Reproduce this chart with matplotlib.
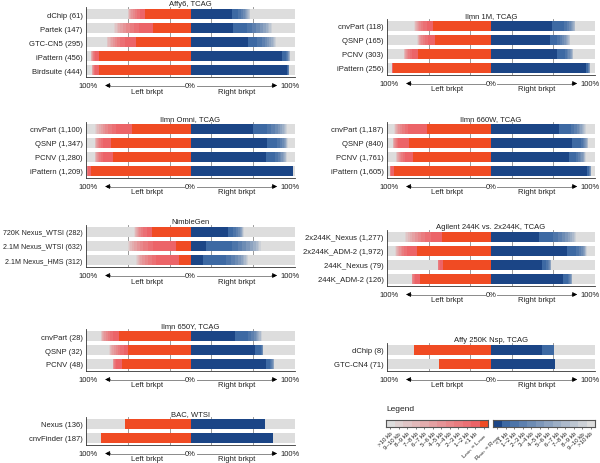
import numpy as np
import matplotlib
matplotlib.use('Agg')
import matplotlib.pyplot as plt
import matplotlib.transforms as mtransforms
from matplotlib.colors import to_rgb

plt.rcParams['font.family'] = ['Liberation Sans', 'DejaVu Sans']

# per-bar percentages for: exact, <1 kb, 1-2 kb, ..., 9-10 kb (the rest is >10 kb)
affy6_names = ['dChip (61)', 'Partek (147)', 'GTC-CN5 (295)', 'iPattern (456)', 'Birdsuite (444)']
affy6_left = [[44, 4, 3, 2, 2, 1.5, 1, 1, 0.5, 0.5, 0.5],
              [36, 13, 5, 4, 3.5, 3, 2.5, 2, 1.5, 1.5, 1],
              [52, 11, 4, 3, 2.5, 2, 1.5, 1.5, 1, 1, 0.5],
              [88, 3, 1, 1, 0.5, 0.5, 0.5, 0.5],
              [88, 3, 1, 0.5, 0.5, 0.5, 0.5]]
affy6_right = [[40, 5, 3, 2, 2, 1.5, 1, 1, 0.5, 0.5, 0.5],
               [41, 13, 5, 4, 3.5, 3, 2.5, 2, 1.5, 1.5, 1],
               [55, 9, 4, 3, 2.5, 2, 2, 1.5, 1, 1, 1],
               [88, 3, 1, 1, 0.5, 0.5, 0.5, 0.5],
               [92, 1, 0.5, 0.5]]

m1_names = ['cnvPart (118)', 'QSNP (165)', 'PCNV (303)', 'iPattern (256)']
m1_left = [[56, 6, 3, 2, 2, 1.5, 1, 1, 0.5, 0.5, 0.5],
           [54, 7, 2.5, 2, 1.5, 1, 1, 0.5, 0.5, 0.5, 0.5],
           [70, 6, 2, 1.5, 1, 1, 1, 0.5, 0.5, 0.5],
           [94, 1, 0.5]]
m1_right = [[59, 11, 3, 2, 1.5, 1.5, 1, 1, 0.5, 0.5],
            [57, 6, 3, 2.5, 2, 1.5, 1, 1, 1, 0.5, 0.5],
            [63, 8, 2, 1.5, 1, 1, 1, 0.5, 0.5, 0.5],
            [91, 2, 0.5, 0.5, 0.5, 0.5]]

omni_names = ['cnvPart (1,100)', 'QSNP (1,347)', 'PCNV (1,280)', 'iPattern (1,209)']
omni_left = [[56, 15, 4, 3.5, 3, 2.5, 2, 1.5, 1.5, 1, 1],
             [76, 8, 2, 1.5, 1, 1, 0.5, 0.5, 0.5],
             [74, 10, 2, 1.5, 1, 1, 0.5, 0.5, 0.5],
             [95, 3, 0.5, 0.5]]
omni_right = [[60, 13, 4, 3.5, 3, 2.5, 2, 1.5, 1, 1, 0.5],
              [73, 10, 2.5, 2, 1.5, 1, 1, 0.5, 0.5, 0.5, 0.5],
              [72, 9, 2.5, 2, 1.5, 1.5, 1, 1, 0.5, 0.5, 0.5],
              [98, 0.5]]

w660_names = ['cnvPart (1,187)', 'QSNP (840)', 'PCNV (1,761)', 'iPattern (1,605)']
w660_left = [[62, 18, 3, 2.5, 2, 1.5, 1, 1, 1, 0.5, 0.5],
             [79, 10, 1.5, 1, 1, 0.5, 0.5, 0.5],
             [75, 8, 2, 1.5, 1, 1, 1, 0.5, 0.5, 0.5],
             [93, 3, 0.5, 0.5]]
w660_right = [[65, 12, 3, 2.5, 2, 1.5, 1.5, 1, 1, 1, 0.5],
              [78, 9, 1.5, 1, 1, 1, 0.5, 0.5, 0.5],
              [75, 7, 2, 1.5, 1.5, 1, 1, 0.5, 0.5, 0.5, 0.5],
              [92, 2, 0.5, 0.5, 0.5, 0.5]]

nimble_names = ['720K Nexus_WTSI (282)', '2.1M Nexus_WTSI (632)', '2.1M Nexus_HMS (312)']
nimble_left = [[37, 5, 3, 2, 2, 1.5, 1, 1, 0.5, 0.5, 0.5],
               [14, 22, 5, 4, 3.5, 3, 2.5, 2, 1.5, 1.5, 1],
               [11, 22, 4, 3.5, 3, 2.5, 2, 1.5, 1, 1, 0.5]]
nimble_right = [[36, 5, 2.5, 2, 1.5, 1, 1, 0.5, 0.5, 0.5, 0.5],
                [15, 25, 5, 4.5, 4, 3.5, 3, 2.5, 2, 1.5, 1],
                [12, 22, 4.5, 4, 3, 2.5, 2, 1.5, 1.5, 1, 1]]

agil_names = ['2x244K_Nexus (1,277)', '2x244K_ADM-2 (1,972)', '244K_Nexus (79)', '244K_ADM-2 (126)']
agil_left = [[47, 11, 5, 4, 3.5, 3, 2.5, 2, 2, 1.5, 1.5],
             [71, 10, 2.5, 2, 1.5, 1.5, 1, 1, 0.5, 0.5, 0.5],
             [46, 3, 1, 0.5, 0.5],
             [68, 5, 1, 1, 0.5, 0.5]]
agil_right = [[46, 14, 4.5, 4, 3, 2.5, 2, 2, 1.5, 1.5, 1],
              [73, 9, 2.5, 2, 1.5, 1, 1, 0.5, 0.5, 0.5, 0.5],
              [49, 4, 1.5, 1, 1, 0.5, 0.5, 0.5],
              [69, 5, 1, 1, 0.5, 0.5, 0.5, 0.5]]

y650_names = ['cnvPart (28)', 'QSNP (32)', 'PCNV (48)']
y650_left = [[68, 6, 3, 2, 2, 1.5, 1, 1, 0.5, 0.5, 0.5],
             [60, 4, 3, 2.5, 2, 2, 1.5, 1, 1, 0.5, 0.5],
             [66, 5, 1, 1, 0.5, 0.5]]
y650_right = [[43, 12, 3, 2.5, 2, 1.5, 1, 1, 1, 0.5, 0.5],
              [62, 5, 1, 0.5, 0.5],
              [72, 4, 1, 1, 0.5, 0.5, 0.5, 0.5]]

nsp_names = ['dChip (8)', 'GTC-CN4 (71)']
nsp_left = [[74], [50]]
nsp_right = [[49, 12], [62]]

bac_names = ['Nexus (136)', 'cnvFinder (187)']
bac_left = [[63], [86]]
bac_right = [[71], [79]]

# colours
gray = '#dddddd'
red_exact, red_lt1 = '#f04b23', '#ec6468'
blue_exact, blue_lt1 = '#1b4586', '#3d69a3'


def fade(c, n=10):
    a, b = np.array(to_rgb(c)), np.array(to_rgb(gray))
    return [tuple(a + (b - a) * k / n) for k in range(n)]


red_cols = [red_exact] + fade(red_lt1)
blue_cols = [blue_exact] + fade(blue_lt1)

W, H = 600, 464
fig = plt.figure(figsize=(6, 4.64), dpi=100)

# (title, names, left, right, column x-range px, top px, label size)
LX, RX = (86, 295), (387, 595)
panels = [
    ('Affy6, TCAG', affy6_names, affy6_left, affy6_right, LX, 8, 5.5),
    ('Ilmn Omni, TCAG', omni_names, omni_left, omni_right, LX, 123, 5.5),
    ('NimbleGen', nimble_names, nimble_left, nimble_right, LX, 226, 5.1),
    ('Ilmn 650Y, TCAG', y650_names, y650_left, y650_right, LX, 330, 5.5),
    ('BAC, WTSI', bac_names, bac_left, bac_right, LX, 418, 5.5),
    ('Ilmn 1M, TCAG', m1_names, m1_left, m1_right, RX, 20, 5.5),
    ('Ilmn 660W, TCAG', w660_names, w660_left, w660_right, RX, 123, 5.5),
    ('Agilent 244K vs. 2x244K, TCAG', agil_names, agil_left, agil_right, RX, 231, 5.5),
    ('Affy 250K Nsp, TCAG', nsp_names, nsp_left, nsp_right, RX, 344, 5.5),
]

FS = 5.5
TC = '#222222'
row_h = 14

for title, names, left, right, (x0, x1), top, lfs in panels:
    n = len(names)
    h = n * row_h
    ax = fig.add_axes([x0 / W, 1 - (top + h) / H, (x1 - x0) / W, h / H])
    for g in [-0.6, -0.2, 0.2, 0.6, 1.0]:
        ax.axvline(g, color='#8a8a8a', lw=0.6, zorder=0)
    for i in range(n):
        ax.barh(i, 2, left=-1, height=0.7, color=gray, lw=0, zorder=1)
        cum = 0
        for k, v in enumerate(left[i]):
            ax.barh(i, -v / 100, left=-cum / 100, height=0.7, color=red_cols[k], lw=0, zorder=2)
            cum += v
        cum = 0
        for k, v in enumerate(right[i]):
            ax.barh(i, v / 100, left=cum / 100, height=0.7, color=blue_cols[k], lw=0, zorder=2)
            cum += v
    ax.set_xlim(-1, 1)
    ax.set_ylim(n - 0.5, -0.5)
    ax.set_yticks(range(n))
    ax.set_yticklabels(names, fontsize=lfs, color=TC)
    ax.set_xticks([])
    ax.tick_params(axis='y', length=0, pad=2.5)
    for s in ['top', 'right']:
        ax.spines[s].set_visible(False)
    for s in ['left', 'bottom']:
        ax.spines[s].set_linewidth(0.6)
        ax.spines[s].set_color('#333333')
    ax.set_title(title, fontsize=FS, pad=1.5, color=TC)

    # axis annotation below
    t1 = mtransforms.offset_copy(ax.transAxes, fig=fig, x=0, y=-8.5, units='dots')
    t2 = mtransforms.offset_copy(ax.transAxes, fig=fig, x=0, y=-14, units='dots')
    ax.text(0.055, 0, '100%', transform=t1, fontsize=FS, ha='right', va='center', color=TC)
    ax.text(0.932, 0, '100%', transform=t1, fontsize=FS, ha='left', va='center', color=TC)
    ax.text(0.5, 0, '0%', transform=t1, fontsize=FS, ha='center', va='center', color=TC)
    ax.plot([0.1, 0.47], [0, 0], transform=t1, color='#8a8a8a', lw=0.7, clip_on=False)
    ax.plot([0.53, 0.9], [0, 0], transform=t1, color='#8a8a8a', lw=0.7, clip_on=False)
    ax.annotate('', xy=(0.078, 0), xytext=(0.13, 0), xycoords=t1, textcoords=t1,
                arrowprops=dict(arrowstyle='-|>', color='black', lw=0.5, mutation_scale=7))
    ax.annotate('', xy=(0.928, 0), xytext=(0.876, 0), xycoords=t1, textcoords=t1,
                arrowprops=dict(arrowstyle='-|>', color='black', lw=0.5, mutation_scale=7))
    ax.text(0.29, 0, 'Left brkpt', transform=t2, fontsize=FS, ha='center', va='center', color=TC)
    ax.text(0.72, 0, 'Right brkpt', transform=t2, fontsize=FS, ha='center', va='center', color=TC)

# legend
left_labels = ['>10 kb', '9–10 kb', '8–9 kb', '7–8 kb', '6–7 kb', '5–6 kb', '4–5 kb',
               '3–4 kb', '2–3 kb', '1–2 kb', '<1 kb', r'L$_{\rm min}$ = L$_{\rm max}$']
right_labels = [r'R$_{\rm min}$ = R$_{\rm max}$', '<1 kb', '1–2 kb', '2–3 kb', '3–4 kb', '4–5 kb',
                '5–6 kb', '6–7 kb', '7–8 kb', '8–9 kb', '9–10 kb', '>10 kb']
left_leg_cols = [gray] + red_cols[::-1]
right_leg_cols = blue_cols + [gray]

fig.text(386 / W, 1 - 410 / H, 'Legend', fontsize=6, ha='left', va='center', color=TC)
for (lx0, lx1), cols, labs in [((386, 488), left_leg_cols, left_labels),
                               ((493, 595), right_leg_cols, right_labels)]:
    lax = fig.add_axes([lx0 / W, 1 - 428 / H, (lx1 - lx0) / W, 7.5 / H])
    lax.bar(range(12), 1, width=1, color=cols, lw=0)
    lax.set_xlim(-0.5, 11.5)
    lax.set_ylim(0, 1)
    lax.set_yticks([])
    lax.set_xticks(range(12))
    lax.set_xticklabels(labs, rotation=45, ha='right', rotation_mode='anchor', fontsize=4.4, color=TC)
    lax.tick_params(axis='x', length=1.5, width=0.5, pad=1, color='#444444')
    for s in lax.spines.values():
        s.set_linewidth(0.8)
        s.set_color('#555555')

fig.savefig('out.png', dpi=100)
